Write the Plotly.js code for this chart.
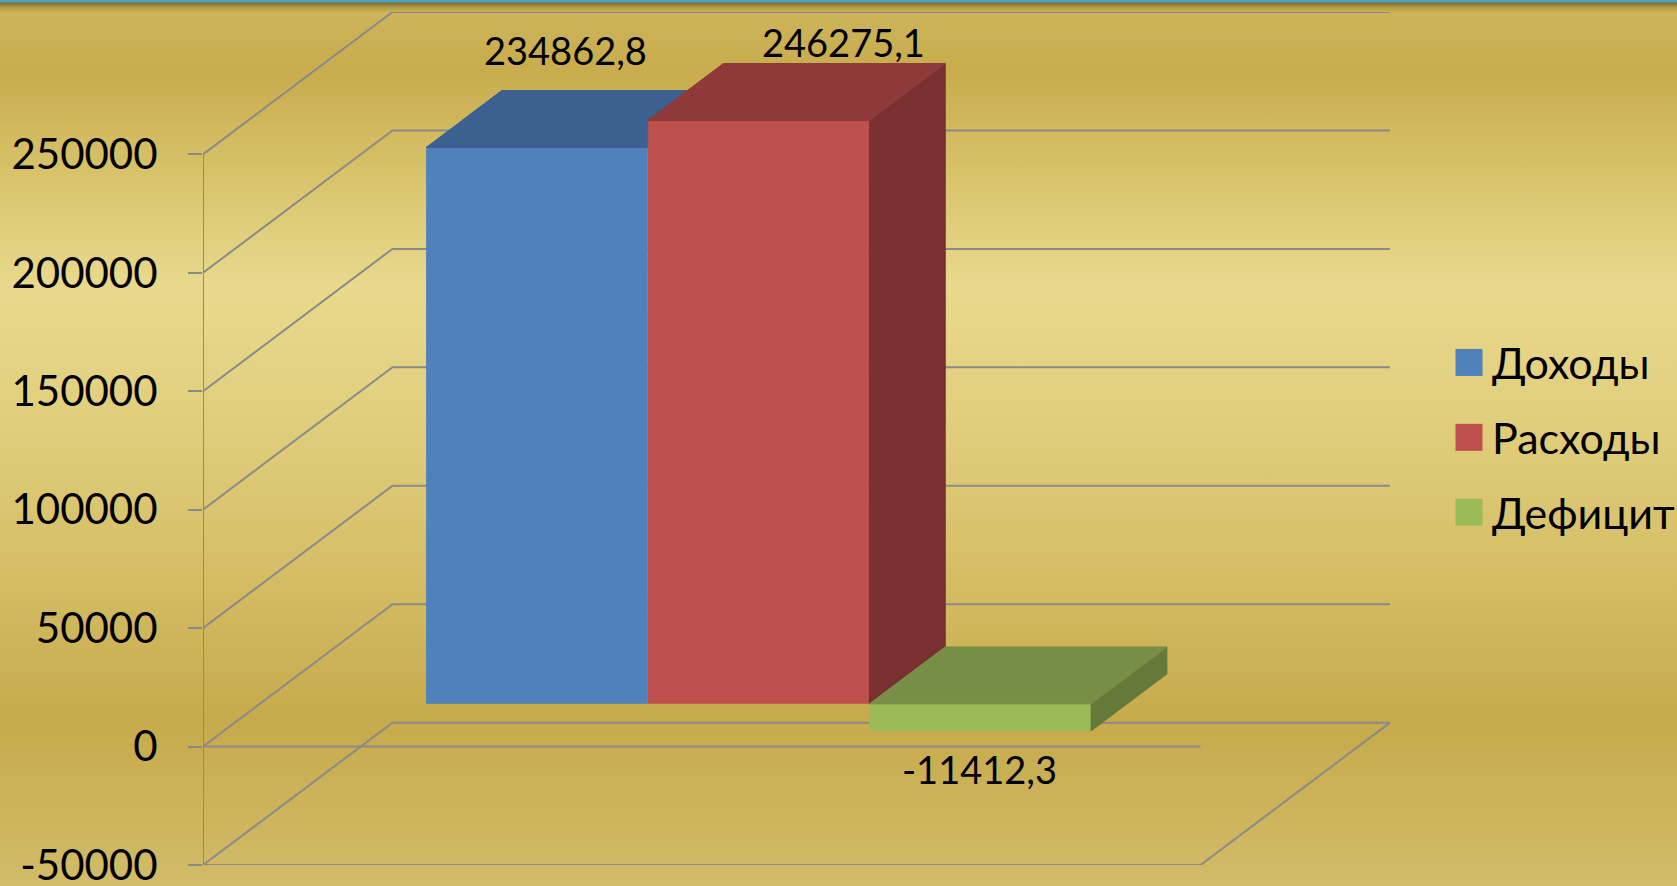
<!DOCTYPE html>
<html><head><meta charset="utf-8">
<script src="https://cdn.plot.ly/plotly-3.0.1.min.js"></script>
<style>
html,body{margin:0;padding:0;overflow:hidden;}
#chart{width:1677px;height:886px;
background:linear-gradient(to bottom,#4aa3c3 0px,#4aa3c3 2px,#7f6e31 3px,#b89e47 8px,#cdb45a 13px,#c8ac4d 72px,#d7c269 170px,#e8d98c 285px,#e2d07f 400px,#d6bf68 560px,#c6aa4b 720px,#d2bc69 886px);}
#chart .legendpoints path{d:path('M13.5,13.5H-13.5V-13.5H13.5Z') !important;}
</style></head><body><div id="chart"></div>
<script>
// ---- data ----
const CATEGORIES = ['Доходы', 'Расходы', 'Дефицит'];
const VALUES = [234862.8, 246275.1, -11412.3];
const TICK_VALUES = [-50000, 0, 50000, 100000, 150000, 200000, 250000];
const TICK_LABELS = ['-50000', '0', '50000', '100000', '150000', '200000', '250000'];

// ---- style ----
const FRONT_COLORS = ['#4F81BD', '#C0504D', '#9BBB59'];
const TOP_COLORS = ['#3C6190', '#8E3A3A', '#778F44'];
const SIDE_COLORS = ['#385D8A', '#7A3030', '#657A3A'];
const LABEL_SHIFT_X = [29, 85, -1];
const LABEL_SHIFT_Y = [98, 78, -38];
const FONT = 'Lato, "Noto Sans", sans-serif';

// 3D projection parameters (oblique view)
const DX = 0.19, DY = 60100, Z1 = 0.3, Z2 = 0.7, GAP = 1.5;
const N = VALUES.length;
const W = 1 / (N + GAP);
const XS = GAP / 2 * W;
function P(x, v, z) { return [x + z * DX, v + z * DY]; }

function clip(poly, f) {
  const out = [];
  for (let i = 0; i < poly.length; i++) {
    const A = poly[i], B = poly[(i + 1) % poly.length];
    const fa = f(A), fb = f(B);
    if (fa >= 0) out.push(A);
    if ((fa >= 0) !== (fb >= 0)) {
      const t = fa / (fa - fb);
      out.push([A[0] + t * (B[0] - A[0]), A[1] + t * (B[1] - A[1])]);
    }
  }
  return out;
}
function area(poly) {
  let s = 0;
  for (let i = 0; i < poly.length; i++) {
    const A = poly[i], B = poly[(i + 1) % poly.length];
    s += (A[0] * B[1] - B[0] * A[1]) / 60000;
  }
  return Math.abs(s);
}

const traces = [];
// front faces as real bars
VALUES.forEach((v, i) => {
  traces.push({
    type: 'bar', name: CATEGORIES[i], legendgroup: 'g' + i,
    x: [XS + (i + 0.5) * W + Z1 * DX], y: [v], base: [Z1 * DY], width: [W],
    marker: { color: FRONT_COLORS[i], line: { width: 0 } },
    hoverinfo: 'skip', showlegend: true
  });
});

function faceTrace(polys, color) {
  const xs = [], ys = [];
  polys.forEach(p => {
    p.forEach(pt => { xs.push(pt[0]); ys.push(pt[1]); });
    xs.push(p[0][0]); ys.push(p[0][1]);
    xs.push(null); ys.push(null);
  });
  return {
    type: 'scatter', mode: 'lines', x: xs, y: ys, fill: 'toself', fillcolor: color,
    line: { color: color, width: 1 }, hoverinfo: 'skip', showlegend: false, connectgaps: false
  };
}

VALUES.forEach((v, i) => {
  const xL = XS + i * W, xR = xL + W;
  const T = Math.max(v, 0), B = Math.min(v, 0);
  const top = [P(xL, T, Z1), P(xR, T, Z1), P(xR, T, Z2), P(xL, T, Z2)];
  const side = [P(xR, B, Z1), P(xR, T, Z1), P(xR, T, Z2), P(xR, B, Z2)];
  let vis = p => [p];
  if (i < N - 1) {
    const vj = VALUES[i + 1];
    const xl = XS + (i + 1) * W + Z1 * DX, xr = xl + W;
    const yt = Math.max(vj, 0) + Z1 * DY, yb = Math.min(vj, 0) + Z1 * DY;
    vis = p => [clip(p, q => xl - q[0]), clip(p, q => q[0] - xr),
                clip(p, q => q[1] - yt), clip(p, q => yb - q[1])]
               .filter(c => c.length >= 3 && area(c) > 1e-6);
  }
  const s = vis(side); if (s.length) traces.push(faceTrace(s, SIDE_COLORS[i]));
  const t = vis(top); if (t.length) traces.push(faceTrace(t, TOP_COLORS[i]));
});

// walls / gridlines
const LINE = { color: '#8A8A8A', width: 2 };
const shapes = [];
function pathOf(pts) { return pts.map((p, k) => (k ? 'L' : 'M') + p[0] + ',' + p[1]).join(''); }
const vMin = TICK_VALUES[0], vMax = TICK_VALUES[TICK_VALUES.length - 1];
TICK_VALUES.forEach(v => {
  shapes.push({ type: 'path', xref: 'x', yref: 'y', layer: 'below', line: LINE,
    path: pathOf([P(0, v, 0), P(0, v, 1), P(1, v, 1)]) });
});
shapes.push({ type: 'path', xref: 'x', yref: 'y', layer: 'below', line: LINE,
  path: pathOf([P(0, vMin, 0), P(1, vMin, 0), P(1, vMin, 1)]) });
shapes.push({ type: 'path', xref: 'x', yref: 'y', layer: 'below', line: LINE,
  path: pathOf([P(0, 0, 0), P(1, 0, 0)]) });
shapes.push({ type: 'path', xref: 'x', yref: 'y', layer: 'below', line: LINE,
  path: pathOf([P(0, vMin, 0), P(0, vMax, 0)]) });

// value labels
const annotations = VALUES.map((v, i) => ({
  x: XS + (i + 0.5) * W + Z1 * DX, y: v + Z1 * DY, xref: 'x', yref: 'y',
  text: v.toFixed(1).replace('.', ','), showarrow: false,
  xanchor: 'center', yanchor: 'middle', xshift: LABEL_SHIFT_X[i], yshift: LABEL_SHIFT_Y[i],
  font: { family: FONT, size: 38, color: '#000' }
}));

const layout = {
  width: 1677, height: 886,
  margin: { l: 203, r: 287, t: 12, b: 21, pad: 0 },
  paper_bgcolor: 'rgba(0,0,0,0)', plot_bgcolor: 'rgba(0,0,0,0)',
  barmode: 'overlay', showlegend: true,
  xaxis: { visible: false, range: [0, 1 + DX], fixedrange: true },
  yaxis: {
    range: [vMin, vMax + DY], tickmode: 'array', tickvals: TICK_VALUES, ticktext: TICK_LABELS,
    showgrid: false, zeroline: false, showline: false, automargin: false,
    ticks: 'outside', ticklen: 14, tickwidth: 2, tickcolor: '#8A8A8A',
    ticklabeloverflow: 'allow',
    ticklabelstandoff: 22, tickfont: { family: FONT, size: 42, color: '#000' }, fixedrange: true
  },
  legend: {
    xref: 'container', yref: 'container', x: 1446 / 1677, y: 1 - 328 / 886,
    xanchor: 'left', yanchor: 'top', bgcolor: 'rgba(0,0,0,0)',
    font: { family: FONT, size: 43, color: '#000' },
    traceorder: 'grouped', tracegroupgap: 16, itemwidth: 36
  },
  shapes: shapes, annotations: annotations
};

Plotly.newPlot('chart', traces, layout, { displayModeBar: false, staticPlot: true }).then(gd => {
  const fix = () => gd.querySelectorAll('.legendpoints path').forEach(p => {
    p.setAttribute('d', 'M13.5,13.5H-13.5V-13.5H13.5Z');
  });
  fix();
  gd.on('plotly_afterplot', fix);
});
</script></body></html>
